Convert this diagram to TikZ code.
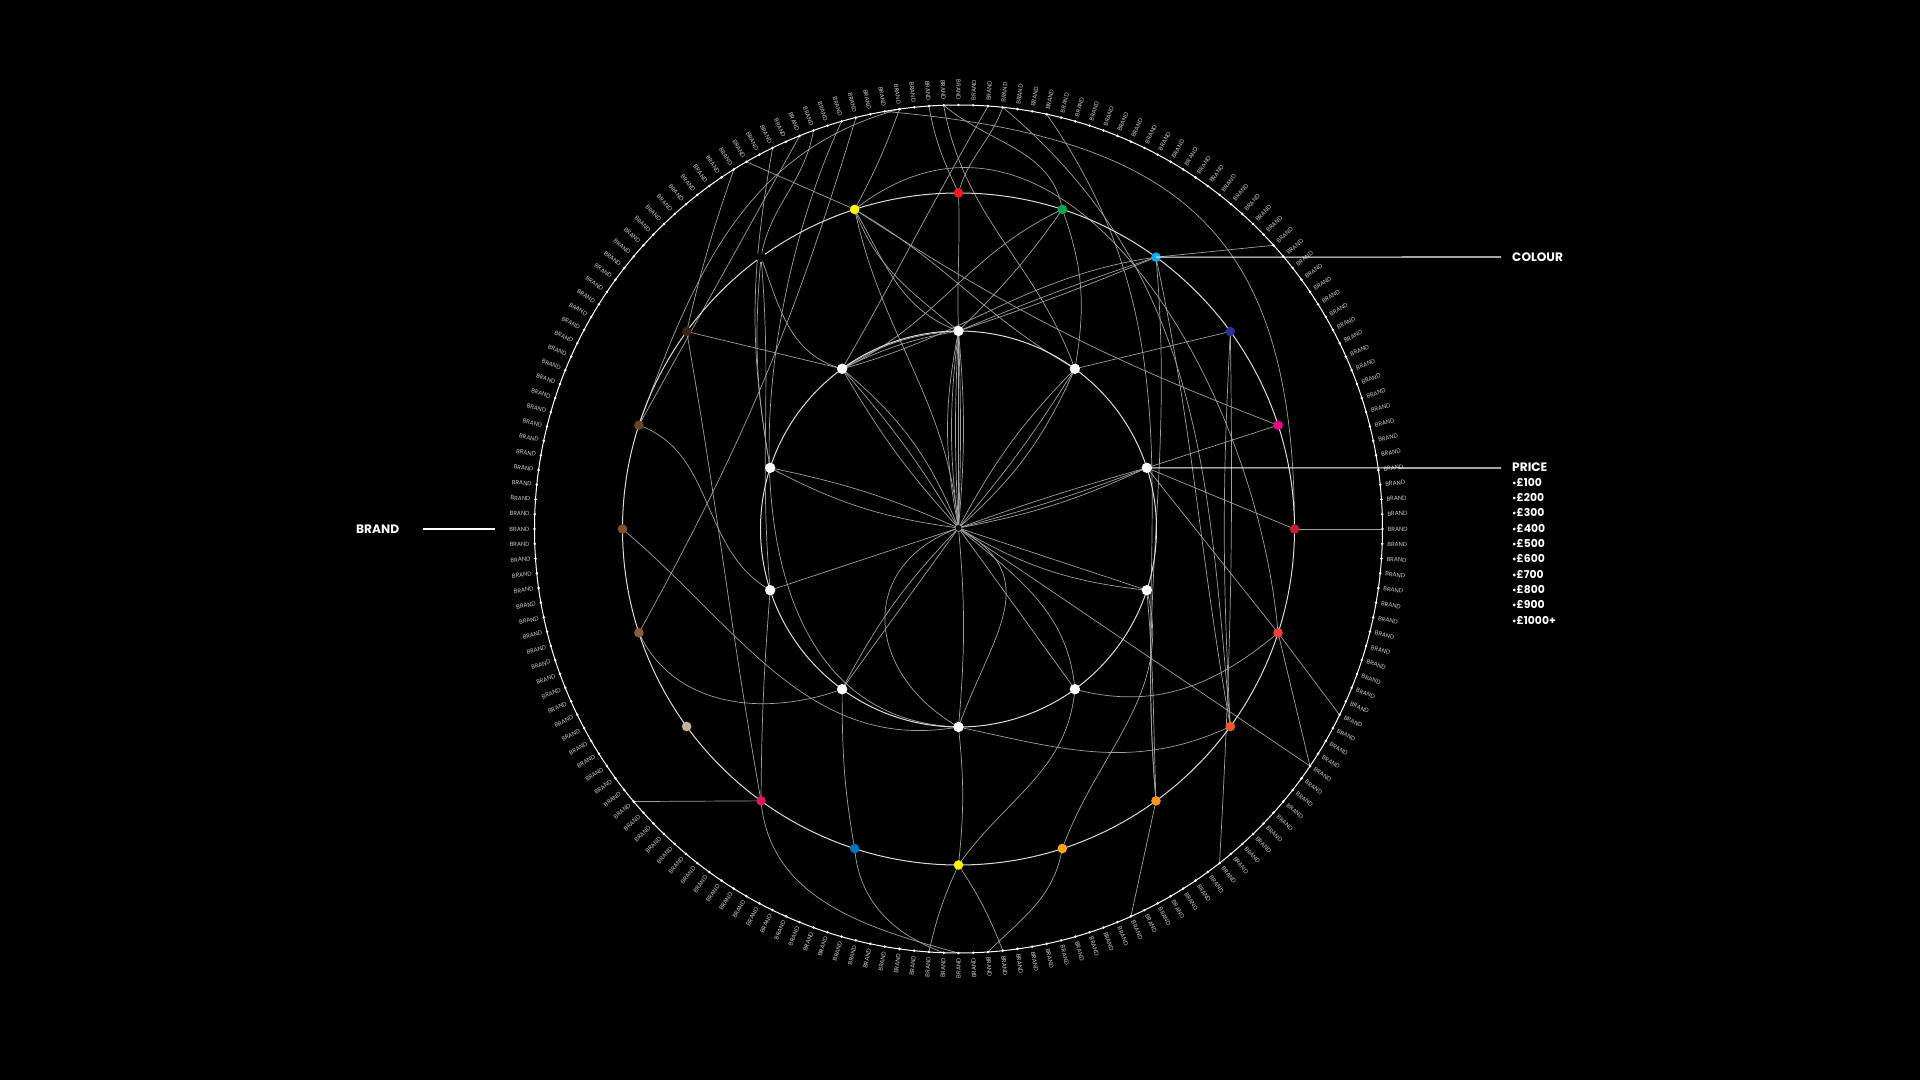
\documentclass[tikz,border=0pt]{standalone}
\usepackage{fontspec}
\setmainfont{Poppins}
\definecolor{connc}{HTML}{A0A0A0}
\definecolor{ringc}{HTML}{DCDCDC}
\definecolor{lblc}{HTML}{C8C8C8}
\definecolor{cRed}{HTML}{ED1C24}
\definecolor{cGreen}{HTML}{00A651}
\definecolor{cCyan}{HTML}{00AEEF}
\definecolor{cNavy}{HTML}{2E3192}
\definecolor{cMagenta}{HTML}{EC008C}
\definecolor{cDarkRed}{HTML}{BE1E2D}
\definecolor{cRedB}{HTML}{EF4136}
\definecolor{cOrRed}{HTML}{F15A29}
\definecolor{cOrange}{HTML}{F7941D}
\definecolor{cOrangeB}{HTML}{FAA61A}
\definecolor{cYellow}{HTML}{FFF200}
\definecolor{cBlue}{HTML}{0072BC}
\definecolor{cCrimson}{HTML}{D71A5B}
\definecolor{cTan}{HTML}{C7B299}
\definecolor{cBrownA}{HTML}{8D5B34}
\definecolor{cBrownB}{HTML}{7A5230}
\definecolor{cBrownC}{HTML}{6B4423}
\definecolor{cDkBrown}{HTML}{3C2415}
\begin{document}
\begin{tikzpicture}[x=1pt,y=1pt,
  conn/.style={draw=connc, line width=0.7pt},
  ring/.style={draw=ringc, line width=1pt},
  outerring/.style={draw=white, line width=1pt},
  cnode/.style={circle, minimum size=9.6pt, inner sep=0pt, draw=none},
  pnode/.style={circle, minimum size=10.4pt, inner sep=0pt, fill=white},
  brandlbl/.style={text=lblc, font=\fontsize{6}{6}\selectfont, inner sep=0pt},
  callout/.style={text=white, font=\fontsize{12.2}{12.2}\selectfont\bfseries, inner sep=0pt, anchor=west},
  pricelbl/.style={text=white, font=\fontsize{10.8}{10.8}\selectfont\bfseries, inner sep=0pt, anchor=west},
  callline/.style={draw=white, line width=1.1pt},
]
\fill[black] (-958.5,-551) rectangle (961.5,529);
\useasboundingbox (-958.5,-551) rectangle (961.5,529);

% positions
\coordinate (hub) at (0,1);
\foreach \a in {0,18,...,342} \coordinate (c\a) at (\a:336);
\foreach \a in {18,54,...,342} \coordinate (p\a) at (\a:198);
\foreach \a in {0,2,...,358} \coordinate (b\a) at (\a:424);

% ---------- connectors ----------
% yellow 108
\draw[conn] (c108) -- (b120);
\draw[conn] (c108) to[bend right=4] (b98);
\draw[conn] (c108) to[out=-70,in=140] (p90);
\draw[conn] (c108) to[out=-60,in=160] (p90);
\draw[conn] (c108) to[out=-78,in=95] (hub);
\draw[conn] (c108) to[out=-30,in=150] (p54);
\draw[conn] (c108) to[bend right=6] (c18);
\draw[conn] (c108) to[out=38,in=95,looseness=1.1] (c342);
% red 90
\draw[conn] (c90) to[out=115,in=-80] (b94);
\draw[conn] (c90) to[out=75,in=-110] (b84);
\draw[conn] (c90) to[out=-88,in=92] (p90);
% green 72
\draw[conn] (c72) to[out=-125,in=45] (p90);
\draw[conn] (c72) to[out=100,in=-40] (b92);
\draw[conn] (c72) to[out=-70,in=80] (p54);
\draw[conn] (c72) to[out=-155,in=25] (p126);
% cyan 54
\draw[conn] (c54) -- (b42);
\draw[conn] (c54) to[bend left=2] (p90);
\draw[conn] (c54) to[bend right=2] (p90);
\draw[conn] (c54) to[out=188,in=15] (p126);
\draw[conn] (c54) to[out=-78,in=100] (c324);
\draw[conn] (c54) to[out=-85,in=95] (c306);
% navy 36
\draw[conn] (c36) -- (p54);
\draw[conn] (c36) to[bend left=2] (b308);
\draw[conn] (c36) to[bend right=3] (c324);
% magenta 18, dark red 0
\draw[conn] (c18) -- (p18);
\draw[conn] (c0) -- (p18);
\draw[conn] (c0) -- (b0);
\draw[conn] (b100) to[out=-5,in=90,looseness=1.3] (c0);
% red 342
\draw[conn] (c342) -- (p18);
\draw[conn] (c342) -- (b334);
\draw[conn] (c342) -- (b326);
\draw[conn] (p306) to[out=-15,in=-140] (c342);
% orange-red 324
\draw[conn] (p270) to[out=-12,in=-155] (c324);
% orange 306
\draw[conn] (c306) to[out=92,in=-85] (p342);
\draw[conn] (c306) -- (b294);
% orange 288
\draw[conn] (c288) to[out=70,in=-75] (p342);
\draw[conn] (c288) to[out=-100,in=45] (b274);
% yellow 270
\draw[conn] (c270) to[out=55,in=-95] (p306);
\draw[conn] (c270) to[bend right=6] (b266);
\draw[conn] (c270) to[bend left=6] (b276);
\draw[conn] (p270) to[bend left=6] (c270);
% blue 252
\draw[conn] (c252) to[out=100,in=-90] (p234);
\draw[conn] (c252) to[out=-85,in=160] (b268);
% crimson 234
\draw[conn] (c234) -- (b220);
\draw[conn] (c234) to[bend left=2] (p198);
\draw[conn] (c234) to[out=-85,in=165] (b270);
\draw[conn] (c234) to[out=100,in=-80] (c144);
% browns
\draw[conn] (c198) to[out=-65,in=-160] (p234);
\draw[conn] (c198) to[bend right=6] (b104);
\draw[conn] (c180) to[out=-40,in=-170] (p270);
\draw[conn] (c162) -- (b112);
\draw[conn] (c162) to[out=70,in=-165] (b98);
\draw[conn] (c162) to[out=-20,in=150] (p198);
\draw[conn] (c144) -- (p126);
\draw[conn] (c144) to[bend left=3] (b122);
% black 126
\draw[conn] (c126) to[out=-85,in=95] (p198);
\draw[conn] (c126) to[out=-70,in=165] (p126);
\draw[conn] (c126) to[out=-95,in=100] (p162);
\draw[conn] (c126) to[out=80,in=-100] (b110);
% long arcs from brand ticks
\draw[conn] (b106) to[out=-115,in=178] (p270);
\draw[conn] (b84) to[out=-40,in=95] (c324);
\draw[conn] (b78) to[out=-55,in=95] (c306);
\draw[conn] (b86) to[out=-120,in=60] (p126);
\draw[conn] (b92) to[out=-80,in=110] (p54);
\draw[conn] (b116) to[out=-100,in=100] (p162);
% hub spokes
\draw[conn] (hub) -- (p90);
\foreach \b in {3,7,11} \draw[conn] (hub) to[bend left=\b] (p90);
\foreach \b in {2,5} \draw[conn] (hub) to[bend right=\b] (p90);
\draw[conn] (hub) to[bend left=8] (p54);
\draw[conn] (hub) to[bend right=4] (p54);
\draw[conn] (hub) to[bend right=12] (p54);
\draw[conn] (hub) to[bend left=2] (p18);
\draw[conn] (hub) to[bend right=3] (p18);
\draw[conn] (hub) to[bend right=7] (p18);
\draw[conn] (hub) -- (p342);
\draw[conn] (hub) to[bend right=12] (p342);
\draw[conn] (hub) -- (p306);
\draw[conn] (p306) to[out=95,in=-40] (hub);
\draw[conn] (hub) to[bend left=5] (p270);
\draw[conn] (hub) to[out=-30,in=70,looseness=1.3] (p270);
\draw[conn] (hub) to[out=200,in=150,looseness=1.4] (p270);
\draw[conn] (hub) -- (p234);
\draw[conn] (hub) to[bend right=8] (p234);
\draw[conn] (hub) -- (p198);
\draw[conn] (hub) to[bend left=10] (p162);
\draw[conn] (hub) to[bend right=6] (p162);
\draw[conn] (hub) to[bend left=6] (p126);
\draw[conn] (hub) to[bend right=5] (p126);
\draw[conn] (hub) to[bend right=14] (p126);
\draw[conn] (p126) to[bend left=8] (p90);
\draw[conn] (p126) to[bend left=14] (p90);
\draw[conn] (hub) -- (b326);

% ---------- rings ----------
\draw[ring] (0,0) circle (336);
\draw[ring] (0,0) circle (198);
\draw[outerring] (0,0) circle (424);
\fill[black] (hub) circle (3.5);
\draw[connc, line width=0.6pt] (hub) circle (3.5);

% ---------- brand ticks and labels ----------
\foreach \a in {0,2,...,358}{
  \fill[white] (b\a) circle (1.4);
  \ifnum\a<89
    \node[brandlbl, anchor=west, rotate=\a] (lbl\a) at (\a:429) {BRAND};
  \else\ifnum\a>273
    \node[brandlbl, anchor=west, rotate=\a] (lbl\a) at (\a:429) {BRAND};
  \else
    \node[brandlbl, anchor=east, rotate=\a-180] (lbl\a) at (\a:429) {BRAND};
  \fi\fi
}

% ---------- colour nodes ----------
\foreach \a/\col in {0/cDarkRed,18/cMagenta,36/cNavy,54/cCyan,72/cGreen,90/cRed,
  108/cYellow,126/black,144/cDkBrown,162/cBrownC,180/cBrownB,198/cBrownA,
  216/cTan,234/cCrimson,252/cBlue,270/cYellow,288/cOrangeB,306/cOrange,
  324/cOrRed,342/cRedB}
  \node[cnode, fill=\col] (n\a) at (c\a) {};

% ---------- price nodes ----------
\foreach \a in {18,54,...,342} \node[pnode] (q\a) at (p\a) {};

% ---------- callouts ----------
\coordinate (colourend) at (542.5,272);
\draw[callline] (c54) -- (colourend);
\node[callout] (colourlbl) at (553.5,272) {COLOUR};

\coordinate (priceend) at (542.5,61);
\draw[callline] (p18) -- (priceend);
\node[callout] (pricelbl) at (553.5,62) {PRICE};
\foreach \t [count=\i from 0] in {100,200,300,400,500,600,700,800,900,1000+}
  \node[pricelbl] (pr\i) at (553.5,{46.7-15.3*\i}) {{\fontsize{9}{9}\selectfont •}£\t};

\coordinate (brandA) at (-535.5,0);
\coordinate (brandB) at (-463.5,0);
\draw[callline] (brandA) -- (brandB);
\node[callout] (brandlbl) at (-602.5,0) {BRAND};
\end{tikzpicture}
\end{document}
